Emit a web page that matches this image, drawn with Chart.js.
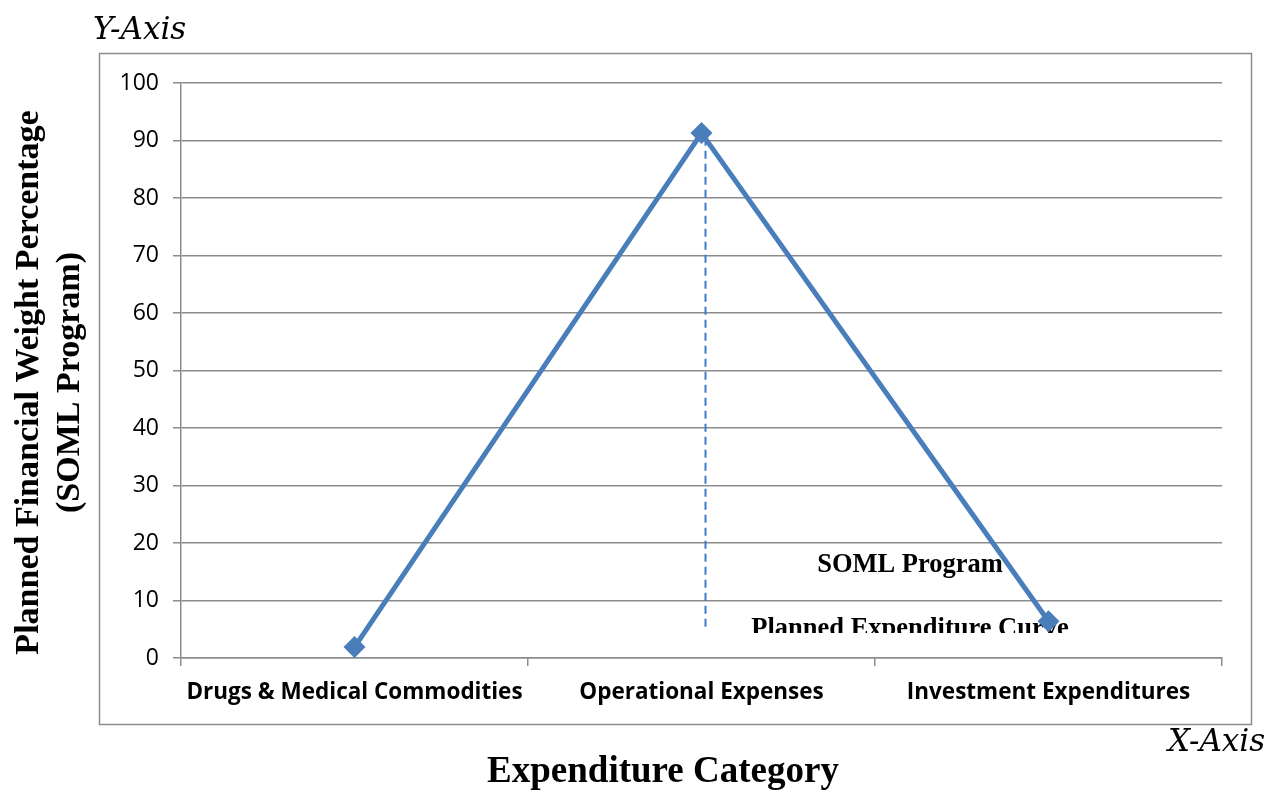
<!DOCTYPE html>
<html>
<head>
<meta charset="utf-8">
<script src="https://cdn.jsdelivr.net/npm/chart.js@4.4.0/dist/chart.umd.min.js"></script>
<style>
  html, body { margin: 0; padding: 0; background: #fff; }
  #wrap { width: 1281px; height: 790px; position: relative; }
</style>
</head>
<body>
<div id="wrap"><canvas id="myChart" width="1281" height="790"></canvas></div>
<script>
const categories = ["Drugs & Medical Commodities", "Operational Expenses", "Investment Expenditures"];
const plannedWeight = [1.9, 91.3, 6.4];
const yTicks = [0, 10, 20, 30, 40, 50, 60, 70, 80, 90, 100];
const yTitle = ["Planned Financial Weight Percentage", "(SOML Program)"];
const xTitle = "Expenditure Category";
const dropLine = { category: 1, from: 90.5, to: 5 };

const blue = "#4a7ebb";
const grey = "#8c8c8c";

// frame, axis titles and the notes inside the plot
const extras = {
  id: "extras",
  beforeDraw(chart) {
    const c = chart.ctx;
    c.save();
    c.fillStyle = "#fff";
    c.fillRect(0, 0, chart.width, chart.height);
    c.strokeStyle = grey;
    c.lineWidth = 1.5;
    c.strokeRect(99.5, 53.5, 1152, 671);
    c.restore();
  },
  beforeDatasetsDraw(chart) {
    const c = chart.ctx;
    const x = chart.scales.x, y = chart.scales.y;
    // dashed drop line under the peak
    const px = x.getPixelForValue(dropLine.category) + 4;
    c.save();
    c.strokeStyle = "#3d7cc9";
    c.lineWidth = 2;
    c.setLineDash([8, 5]);
    c.beginPath();
    c.moveTo(px, y.getPixelForValue(dropLine.from));
    c.lineTo(px, y.getPixelForValue(dropLine.to));
    c.stroke();
    c.restore();

    c.save();
    c.fillStyle = "#000";
    c.textAlign = "center";
    c.textBaseline = "alphabetic";
    c.font = "bold 26.5px 'Liberation Serif'";
    c.fillText("SOML Program", 910, 572);
    c.beginPath();
    c.rect(700, 600, 400, 33);
    c.clip();
    c.fillText("Planned Expenditure Curve", 910, 636);
    c.restore();
  },
  afterDraw(chart) {
    const c = chart.ctx;
    const a = chart.chartArea;
    c.save();
    c.fillStyle = "#000";
    c.textAlign = "center";
    c.textBaseline = "middle";
    c.font = "bold 34px 'Liberation Serif'";
    const cy = (a.top + a.bottom) / 2 + 12;
    c.translate(29, cy);
    c.rotate(-Math.PI / 2);
    c.fillText(yTitle[0], 0, 0);
    c.fillText(yTitle[1], 0, 41);
    c.restore();

    c.save();
    c.fillStyle = "#000";
    c.textAlign = "center";
    c.textBaseline = "middle";
    c.font = "bold 37px 'Liberation Serif'";
    c.fillText(xTitle, 663, 772);
    c.font = "italic 31px 'DejaVu Serif'";
    c.textAlign = "left";
    c.fillText("Y-Axis", 93, 31);
    c.fillText("X-Axis", 1168, 743);
    c.restore();
  }
};

new Chart(document.getElementById("myChart").getContext("2d"), {
  type: "line",
  data: {
    labels: categories,
    datasets: [{
      label: "SOML Program Planned Expenditure Curve",
      data: plannedWeight,
      borderColor: blue,
      backgroundColor: blue,
      borderWidth: 5,
      pointStyle: "rectRot",
      pointRadius: 11,
      pointBorderWidth: 0,
      tension: 0
    }]
  },
  options: {
    responsive: false,
    animation: false,
    layout: { padding: { left: 0, right: 59, top: 83, bottom: 0 } },
    plugins: { legend: { display: false }, tooltip: { enabled: false } },
    scales: {
      x: {
        type: "category",
        offset: true,
        afterFit(s) { s.height = 132; },
        grid: {
          offset: true,
          drawOnChartArea: false,
          drawTicks: true,
          tickLength: 8,
          color: grey,
          lineWidth: 1.5
        },
        border: { color: grey, width: 1.5 },
        ticks: {
          color: "#000",
          padding: 13,
          maxRotation: 0,
          font: { family: "'Open Sans'", size: 22.5, weight: "bold" }
        }
      },
      y: {
        min: 0,
        max: 100,
        afterFit(s) { s.width = 181; },
        afterBuildTicks(s) { s.ticks = yTicks.map(v => ({ value: v })); },
        grid: { color: grey, lineWidth: 1.5, tickLength: 8 },
        border: { color: grey, width: 1.5 },
        ticks: {
          color: "#000",
          padding: 14,
          font: { family: "'Open Sans'", size: 23 }
        }
      }
    }
  },
  plugins: [extras]
});
</script>
</body>
</html>
